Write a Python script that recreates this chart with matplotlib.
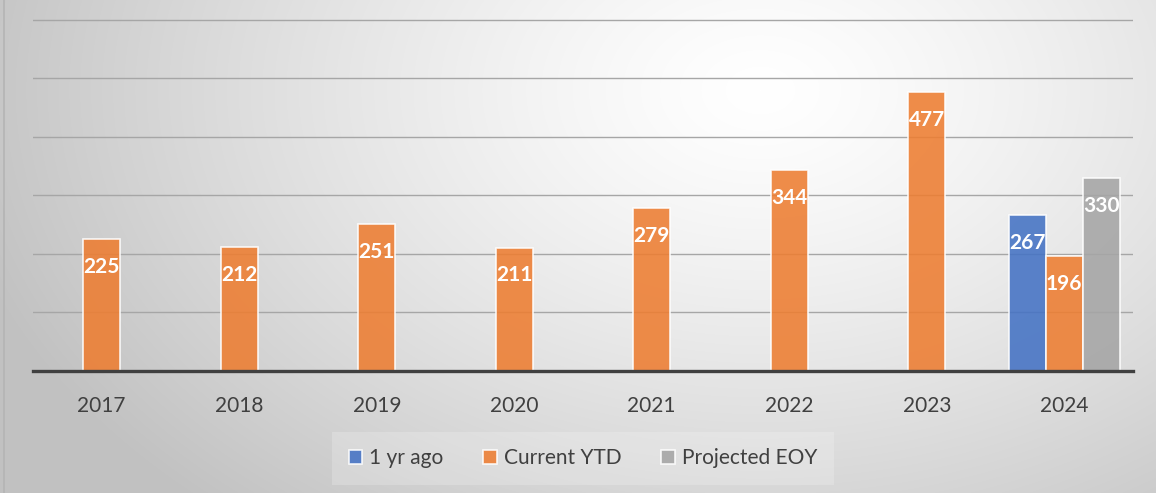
import matplotlib.pyplot as plt
import numpy as np

# chart data
years = ['2017', '2018', '2019', '2020', '2021', '2022', '2023', '2024']
one_yr_ago = [np.nan, np.nan, np.nan, np.nan, np.nan, np.nan, np.nan, 267]
current_ytd = [225, 212, 251, 211, 279, 344, 477, 196]
projected_eoy = [np.nan, np.nan, np.nan, np.nan, np.nan, np.nan, np.nan, 330]

series = [('1 yr ago', one_yr_ago, '#4472C4'),
          ('Current YTD', current_ytd, '#ED7D31'),
          ('Projected EOY', projected_eoy, '#A5A5A5')]

plt.rcParams['font.family'] = ['Lato', 'DejaVu Sans']

W, H = 1156, 493
fig = plt.figure(figsize=(W / 100, H / 100), dpi=100)

# radial gradient background
bg = fig.add_axes([0, 0, 1, 1])
yy, xx = np.mgrid[0:H, 0:W]
r = np.sqrt(((xx - 760) / 820.0) ** 2 + ((yy - 90) / 560.0) ** 2)
shade = 1.0 - 0.24 * np.clip(r, 0, 1) ** 1.3
bg.imshow(np.dstack([shade] * 3), extent=[0, W, H, 0], aspect='auto')
bg.plot([3.5, 3.5], [0, H], color='#b4b4b4', lw=1.2)
bg.set_xlim(0, W)
bg.set_ylim(H, 0)
bg.axis('off')

ax = fig.add_axes([33 / W, 122 / H, 1100 / W, 356.9 / H])
ax.patch.set_alpha(0)
x = np.arange(len(years))
width = 0.27
offsets = [-width, 0, width]

for (name, vals, color), off in zip(series, offsets):
    bars = ax.bar(x + off, vals, width, color=color, alpha=0.88,
                  edgecolor=(1, 1, 1, 0.45), linewidth=1.2, label=name, zorder=2)
    for xi, v in zip(x + off, vals):
        if np.isnan(v):
            continue
        ax.annotate(str(v), (xi, v), xytext=(0, -20), textcoords='offset points',
                    ha='center', va='center', color='white', fontsize=15,
                    fontweight='bold', zorder=4)

ax.set_xlim(-0.5, len(years) - 0.5)
ax.set_ylim(0, 610)
ax.set_yticks(range(0, 700, 100))
ax.yaxis.grid(True, color='#a6a6a6', lw=1)
ax.set_axisbelow(True)
ax.tick_params(axis='y', left=False, labelleft=False)
ax.tick_params(axis='x', length=0, labelsize=15, labelcolor='#404040', pad=18)
ax.set_xticks(x)
ax.set_xticklabels(years)
for s in ['top', 'right', 'left']:
    ax.spines[s].set_visible(False)
ax.spines['bottom'].set_color('#404040')
ax.spines['bottom'].set_linewidth(2.4)
ax.spines['bottom'].set_zorder(5)

leg = ax.legend(loc='center', bbox_to_anchor=(0.5, -0.245), ncol=3, frameon=True,
                fontsize=15, handlelength=0.65, handleheight=0.65, handletextpad=0.35,
                columnspacing=1.9, labelcolor='#404040', borderpad=0.5)
leg.get_frame().set_facecolor('white')
leg.get_frame().set_alpha(0.2)
leg.get_frame().set_edgecolor('none')
leg.get_frame().set_boxstyle('square')

fig.savefig('out.png', dpi=100)
